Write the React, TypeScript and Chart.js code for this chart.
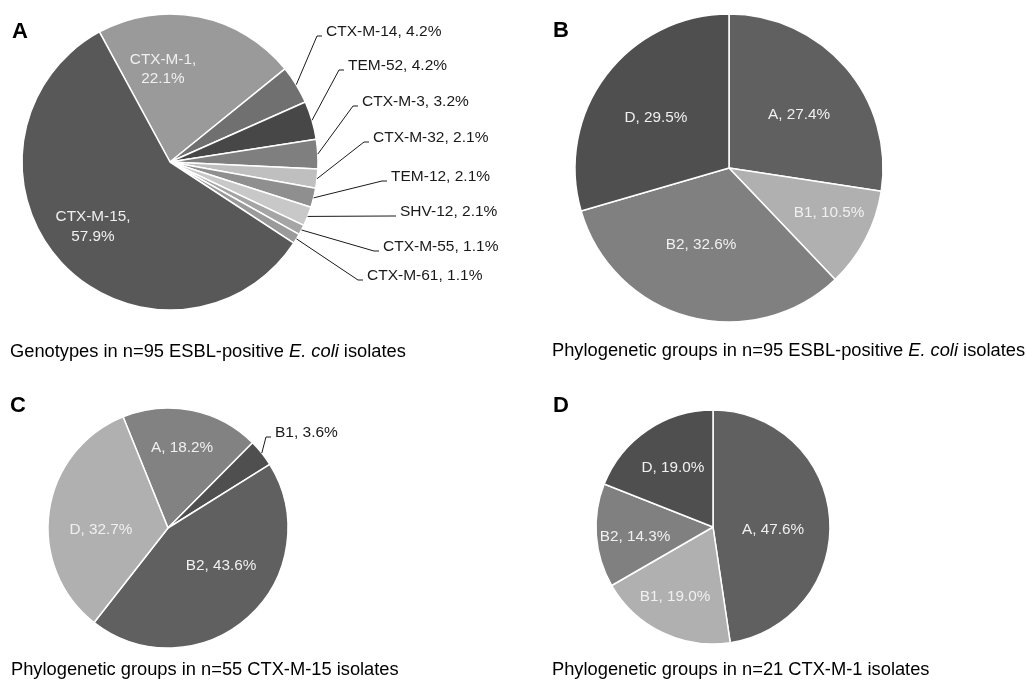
import React, { useEffect, useRef } from 'react';
import { Chart, registerables } from 'chart.js';

Chart.register(...registerables);

// ---------- data ----------
const genotypeCategories = ['CTX-M-1', 'CTX-M-14', 'TEM-52', 'CTX-M-3', 'CTX-M-32', 'TEM-12', 'SHV-12', 'CTX-M-55', 'CTX-M-61', 'CTX-M-15'];
const genotypeValues = [22.1, 4.2, 4.2, 3.2, 2.1, 2.1, 2.1, 1.1, 1.1, 57.9];

const phyloAllCategories = ['A', 'B1', 'B2', 'D'];
const phyloAllValues = [27.4, 10.5, 32.6, 29.5];

const phyloCtxM15Categories = ['A', 'B1', 'B2', 'D'];
const phyloCtxM15Values = [18.2, 3.6, 43.6, 32.7];

const phyloCtxM1Categories = ['A', 'B1', 'B2', 'D'];
const phyloCtxM1Values = [47.6, 19.0, 14.3, 19.0];

// ---------- styles ----------
const genotypeColors = ['#9a9a9a', '#707070', '#474747', '#7f7f7f', '#bfbfbf', '#8f8f8f', '#c8c8c8', '#a5a5a5', '#9a9a9a', '#585858'];
const phyloColorsB = ['#606060', '#b0b0b0', '#808080', '#4f4f4f'];
const phyloColorsC = ['#828282', '#4f4f4f', '#606060', '#b0b0b0'];
const phyloColorsD = ['#606060', '#b0b0b0', '#808080', '#4f4f4f'];

const FONT = '"Liberation Sans", Arial, Helvetica, sans-serif';

type LabelSpec = { kind: 'in' | 'out'; dx: number; dy: number; wrap?: boolean };

// label layout (offsets from pie centre, px)
const genotypeLabelLayout: LabelSpec[] = [
  { kind: 'in', dx: -7, dy: -92.5, wrap: true },
  { kind: 'out', dx: 156, dy: -130 },
  { kind: 'out', dx: 178, dy: -96 },
  { kind: 'out', dx: 192, dy: -60 },
  { kind: 'out', dx: 203, dy: -24 },
  { kind: 'out', dx: 221, dy: 15 },
  { kind: 'out', dx: 230, dy: 50 },
  { kind: 'out', dx: 213, dy: 85 },
  { kind: 'out', dx: 197, dy: 114 },
  { kind: 'in', dx: -77, dy: 65, wrap: true },
];
const phyloAllLabelLayout: LabelSpec[] = [
  { kind: 'in', dx: 70, dy: -53 },
  { kind: 'in', dx: 100, dy: 45 },
  { kind: 'in', dx: -28, dy: 77 },
  { kind: 'in', dx: -73, dy: -50 },
];
const phyloCtxM15LabelLayout: LabelSpec[] = [
  { kind: 'in', dx: 14, dy: -80 },
  { kind: 'out', dx: 107, dy: -95 },
  { kind: 'in', dx: 53, dy: 38 },
  { kind: 'in', dx: -67, dy: 2 },
];
const phyloCtxM1LabelLayout: LabelSpec[] = [
  { kind: 'in', dx: 60, dy: 3 },
  { kind: 'in', dx: -38, dy: 70 },
  { kind: 'in', dx: -78, dy: 10 },
  { kind: 'in', dx: -40, dy: -59 },
];

function makeLabelPlugin(specs: LabelSpec[]) {
  return {
    id: 'sliceLabels',
    afterDatasetsDraw(chart: any) {
      const meta = chart.getDatasetMeta(0);
      const labels = chart.data.labels as string[];
      const values = chart.data.datasets[0].data as number[];
      const ctx: CanvasRenderingContext2D = chart.ctx;
      ctx.save();
      meta.data.forEach((arc: any, i: number) => {
        const spec = specs[i];
        if (!spec) return;
        const p = arc.getProps(['x', 'y', 'startAngle', 'endAngle', 'outerRadius'], true);
        const pct = `${values[i].toFixed(1)}%`;
        const tx = p.x + spec.dx;
        const ty = p.y + spec.dy;
        ctx.textBaseline = 'middle';
        if (spec.kind === 'in') {
          ctx.font = `15.3px ${FONT}`;
          ctx.fillStyle = '#f0f0f0';
          ctx.textAlign = 'center';
          if (spec.wrap) {
            ctx.fillText(`${labels[i]},`, tx, ty - 9.75);
            ctx.fillText(pct, tx, ty + 9.75);
          } else {
            ctx.fillText(`${labels[i]}, ${pct}`, tx, ty);
          }
        } else {
          ctx.font = `15.5px ${FONT}`;
          const mid = (p.startAngle + p.endAngle) / 2;
          const sx = p.x + Math.cos(mid) * p.outerRadius;
          const sy = p.y + Math.sin(mid) * p.outerRadius;
          const ly = ty + 4;
          ctx.strokeStyle = '#1a1a1a';
          ctx.lineWidth = 1;
          ctx.beginPath();
          ctx.moveTo(sx, sy);
          ctx.lineTo(tx - 9, ly);
          ctx.lineTo(tx - 4, ly);
          ctx.stroke();
          ctx.fillStyle = '#1a1a1a';
          ctx.textAlign = 'left';
          ctx.fillText(`${labels[i]}, ${pct}`, tx, ty);
        }
      });
      ctx.restore();
    },
  };
}

type PieProps = {
  left: number; top: number; width: number; height: number;
  padding: { left: number; right: number; top: number; bottom: number };
  radius: number; rotation: number;
  categories: string[]; values: number[]; colors: string[]; specs: LabelSpec[];
};

function PieChart(props: PieProps) {
  const ref = useRef<HTMLCanvasElement>(null);
  useEffect(() => {
    const chart = new Chart(ref.current as HTMLCanvasElement, {
      type: 'pie',
      data: {
        labels: props.categories,
        datasets: [{
          data: props.values,
          backgroundColor: props.colors,
          borderColor: '#ffffff',
          borderWidth: 1.5,
          radius: props.radius,
          rotation: props.rotation,
        } as any],
      },
      options: {
        responsive: false,
        animation: false,
        events: [],
        radius: props.radius,
        rotation: props.rotation,
        layout: { padding: props.padding },
        plugins: {
          legend: { display: false },
          tooltip: { enabled: false },
          title: { display: false },
        },
      } as any,
      plugins: [makeLabelPlugin(props.specs)],
    });
    return () => chart.destroy();
  }, []);
  return (
    <canvas
      ref={ref}
      width={props.width}
      height={props.height}
      style={{ position: 'absolute', left: props.left, top: props.top, width: props.width, height: props.height }}
    />
  );
}

const captionStyle: React.CSSProperties = {
  position: 'absolute',
  font: `18.3px ${FONT}`,
  lineHeight: '20px',
  whiteSpace: 'nowrap',
  color: '#000',
};
const letterStyle: React.CSSProperties = {
  position: 'absolute',
  font: `bold 22px ${FONT}`,
  lineHeight: '22px',
  color: '#000',
};

export default function App() {
  return (
    <div style={{ position: 'absolute', left: 0, top: 0, width: 1026, height: 685, background: '#fff', overflow: 'hidden' }}>
      <PieChart left={0} top={0} width={540} height={335}
        padding={{ left: 0, right: 200, top: 0, bottom: 11 }}
        radius={148} rotation={-28.5}
        categories={genotypeCategories} values={genotypeValues} colors={genotypeColors} specs={genotypeLabelLayout} />
      <PieChart left={540} top={0} width={486} height={340}
        padding={{ left: 0, right: 108, top: 0, bottom: 4 }}
        radius={154} rotation={0}
        categories={phyloAllCategories} values={phyloAllValues} colors={phyloColorsB} specs={phyloAllLabelLayout} />
      <PieChart left={0} top={375} width={540} height={310}
        padding={{ left: 0, right: 204, top: 0, bottom: 4 }}
        radius={120} rotation={-22}
        categories={phyloCtxM15Categories} values={phyloCtxM15Values} colors={phyloColorsC} specs={phyloCtxM15LabelLayout} />
      <PieChart left={540} top={375} width={486} height={310}
        padding={{ left: 0, right: 140, top: 0, bottom: 6 }}
        radius={117} rotation={0}
        categories={phyloCtxM1Categories} values={phyloCtxM1Values} colors={phyloColorsD} specs={phyloCtxM1LabelLayout} />

      <div style={{ ...letterStyle, left: 12, top: 20 }}>A</div>
      <div style={{ ...letterStyle, left: 553, top: 19 }}>B</div>
      <div style={{ ...letterStyle, left: 10, top: 394 }}>C</div>
      <div style={{ ...letterStyle, left: 553, top: 394 }}>D</div>

      <div style={{ ...captionStyle, left: 10, top: 341 }}>Genotypes in n=95 ESBL-positive <i>E. coli</i> isolates</div>
      <div style={{ ...captionStyle, left: 552, top: 340 }}>Phylogenetic groups in n=95 ESBL-positive <i>E. coli</i> isolates</div>
      <div style={{ ...captionStyle, left: 11, top: 659 }}>Phylogenetic groups in n=55 CTX-M-15 isolates</div>
      <div style={{ ...captionStyle, left: 552, top: 659 }}>Phylogenetic groups in n=21 CTX-M-1 isolates</div>
    </div>
  );
}
